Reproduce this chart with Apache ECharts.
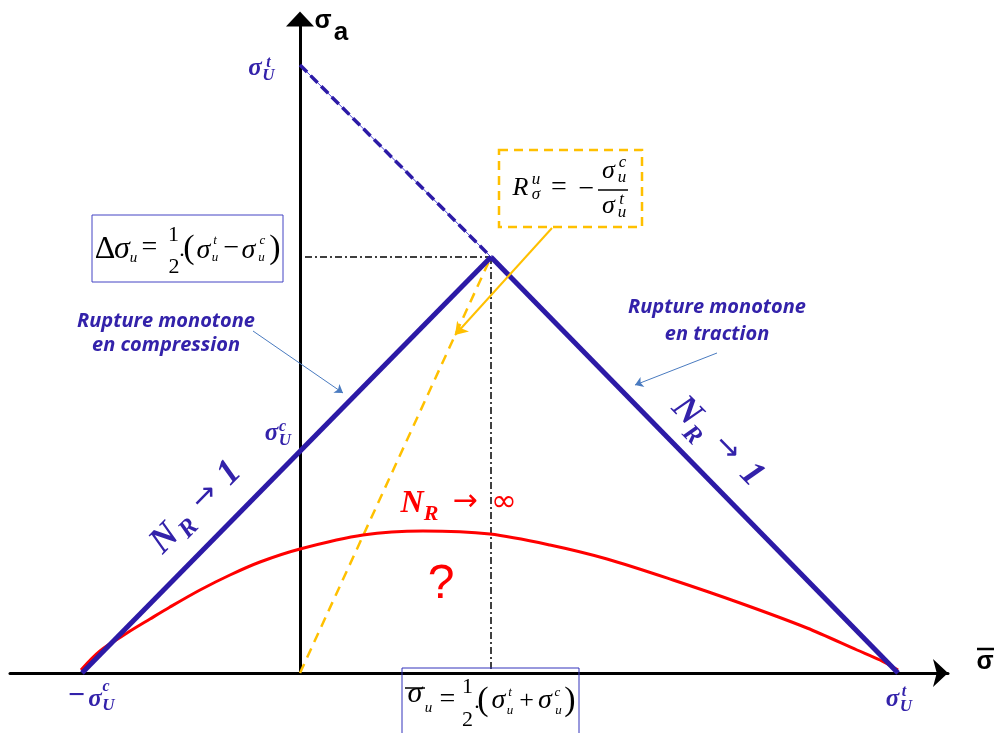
<!DOCTYPE html>
<html>
<head>
<meta charset="utf-8">
<script src="https://cdn.jsdelivr.net/npm/echarts@6/dist/echarts.min.js"></script>
<style>html,body{margin:0;padding:0;background:#fff}#c{width:997px;height:733px}</style>
</head>
<body>
<div id="c"></div>
<script>
// ---- data (mean stress on x, stress amplitude on y; arbitrary units) ----
const compressionLine = [[-218, 0], [191, 416]];
const tensionLine = [[191, 416], [598, 0]];
const tensionExtension = [[0, 608], [191, 416]];
const ratioLine = [[0, 0], [191, 416]];
const apexHorizontal = [[5, 416], [191, 416]];
const apexVertical = [[191, 416], [191, 3]];
const enduranceX = [-219, -200, -173, -150, -130, -100, -70, -40, 0, 63, 123, 190, 250, 307, 373, 440, 507, 557, 580, 598];
const enduranceY = [3, 22, 40, 54, 66, 83, 98, 111, 124, 138, 142, 139, 128, 114, 93, 70, 45, 23, 13, 3];
const ratioArrow = [[252, 445], [155, 338]];
const compressionPointer = [[-47, 342], [43, 280]];
const tractionPointer = [[417, 320], [335, 288]];

const BLUE = '#2C1AA6';
const TXTBLUE = '#3322AA';
const YELLOW = '#FFC000';
const SERIF = '"Liberation Serif","DejaVu Serif",serif';
const SANS = '"Liberation Sans","DejaVu Sans",sans-serif';
const DSANS = '"DejaVu Sans",sans-serif';
const OPEN = '"Open Sans",Lato,sans-serif';
const K = 0.35;

function T(cx, base, text, size, o) {
  o = o || {};
  const al = o.align || 'center';
  return {
    type: 'text', x: cx, y: base - K * size, z: 100,
    style: {
      text: text, fill: o.color || '#000',
      font: (o.style || 'normal') + ' ' + (o.weight || 'normal') + ' ' + size + 'px ' + (o.family || SERIF),
      textAlign: al, textVerticalAlign: 'middle', align: al, verticalAlign: 'middle'
    }
  };
}
function L(x1, y1, x2, y2, color, w) {
  return { type: 'line', z: 100, shape: { x1, y1, x2, y2 }, style: { stroke: color || '#000', lineWidth: w || 1.5 } };
}
const bi = { style: 'italic', weight: 'bold', color: TXTBLUE };
const it = { style: 'italic' };
const rup = { style: 'italic', weight: 'bold', color: TXTBLUE, family: OPEN };
function sigmaLabel(sx, sb, sup, supx, supb, ux, ub) {
  return [
    T(sx, sb, 'σ', 25, bi),
    T(supx, supb, sup, 16, bi),
    T(ux, ub, 'U', 17, bi)
  ];
}

const graphics = [
  // axis titles
  T(323, 30, 'σ', 25, { weight: 'bold', family: SANS }),
  T(341, 42, 'a', 26, { weight: 'bold', family: SANS }),
  T(985, 671, 'σ', 25, { weight: 'bold', family: SANS }),
  L(977, 649, 994, 649, '#000', 2.5),
  // sigma labels
  ...sigmaLabel(255, 77, 't', 268.5, 68, 268.5, 82),
  ...sigmaLabel(271.5, 442, 'c', 282.5, 432, 285, 447),
  T(76.5, 707, '−', 30, bi),
  ...sigmaLabel(95, 708, 'c', 106, 692, 108.5, 712),
  ...sigmaLabel(892.5, 708, 't', 904, 697, 906, 713),
  // delta sigma box
  { type: 'rect', z: 99, shape: { x: 92, y: 215, width: 191, height: 67 }, style: { fill: 'rgba(0,0,0,0)', stroke: '#4444C4', lineWidth: 1 } },
  T(105, 261, 'Δ', 32),
  T(122, 261, 'σ', 32, it),
  T(133.5, 263, 'u', 15, it),
  T(149.5, 257, '=', 28),
  T(173.5, 243, '1', 22),
  T(174, 275, '2', 22),
  T(182, 258, '.', 22),
  T(189, 261, '(', 34),
  T(203.5, 260, 'σ', 28, it),
  T(215, 245, 't', 13, it),
  T(215, 262, 'u', 13, it),
  T(231.5, 258, '−', 28),
  T(248.5, 260, 'σ', 28, it),
  T(262.5, 245, 'c', 13, it),
  T(261.5, 262, 'u', 13, it),
  T(275, 261, ')', 34),
  // mean stress box
  { type: 'rect', z: 99, shape: { x: 402, y: 668, width: 177, height: 80 }, style: { fill: 'rgba(0,0,0,0)', stroke: '#3333BB', lineWidth: 1 } },
  T(415, 705, 'σ', 30, it),
  L(405, 688, 425, 688, '#000', 1.5),
  T(428.5, 713, 'u', 15, it),
  T(447.5, 709, '=', 28),
  T(467.5, 695, '1', 22),
  T(467.5, 728, '2', 22),
  T(477, 710, '.', 22),
  T(483, 713, '(', 34),
  T(498.5, 710, 'σ', 28, it),
  T(510, 697, 't', 13, it),
  T(510, 715, 'u', 13, it),
  T(526.5, 710, '+', 26),
  T(545, 710, 'σ', 28, it),
  T(557.5, 697, 'c', 13, it),
  T(558.5, 715, 'u', 13, it),
  T(570, 713, ')', 34),
  // ratio box
  { type: 'rect', z: 99, shape: { x: 499, y: 150, width: 143, height: 77 }, style: { fill: 'rgba(0,0,0,0)', stroke: YELLOW, lineWidth: 2.5, lineDash: [9, 6] } },
  T(520.5, 197, 'R', 26, it),
  T(536, 185, 'u', 17, it),
  T(536, 200, 'σ', 17, it),
  T(559, 197, '=', 28),
  T(586.5, 199, '−', 28),
  T(608.5, 180, 'σ', 26, it),
  T(622.5, 168, 'c', 17, it),
  T(622, 183, 'u', 17, it),
  L(598, 190, 628, 190, '#000', 1.5),
  T(608.5, 215, 'σ', 26, it),
  T(621.5, 205, 't', 17, it),
  T(622, 218, 'u', 17, it),
  // rupture texts
  T(166, 328, 'Rupture monotone', 20, rup),
  T(166, 352, 'en compression', 20, rup),
  T(717, 314, 'Rupture monotone', 20, rup),
  T(717, 341, 'en traction', 20, rup),
  // N_R -> 1 left (rotated)
  { type: 'group', x: 164.4, y: 557.8, rotation: 0.794, children: [
    T(14, 0, 'N', 36, bi), T(38, 6, 'R', 25, bi), T(72, -3, '→', 30, { color: TXTBLUE, family: DSANS }), T(106, 0, '1', 36, bi)
  ] },
  // N_R -> 1 right (rotated)
  { type: 'group', x: 666.7, y: 409.6, rotation: -0.793, children: [
    T(15, 0, 'N', 36, bi), T(36, 9, 'R', 25, bi), T(70, -5, '→', 30, { color: TXTBLUE, family: DSANS }), T(106, -2, '1', 36, bi)
  ] },
  // N_R -> infinity
  T(412, 515, 'N', 32, { style: 'italic', weight: 'bold', color: '#FF0000' }),
  T(431, 522, 'R', 22, { style: 'italic', weight: 'bold', color: '#FF0000' }),
  T(465, 513, '→', 30, { color: '#FF0000', family: DSANS }),
  T(504, 514, '∞', 31, { color: '#FF0000', family: DSANS }),
  T(441, 602, '?', 48, { color: '#FF0000', family: SANS })
];

const chart = echarts.init(document.getElementById('c'), null, { renderer: 'canvas' });
chart.setOption({
  animation: false,
  backgroundColor: '#fff',
  grid: { left: 10, right: 49, top: 19, bottom: 60 },
  xAxis: {
    type: 'value', min: -290, max: 648,
    axisLine: { onZero: true, symbol: ['none', 'arrow'], symbolSize: [21, 15], lineStyle: { color: '#000', width: 3 } },
    axisTick: { show: false }, axisLabel: { show: false }, splitLine: { show: false }
  },
  yAxis: {
    type: 'value', min: 0, max: 654,
    axisLine: { onZero: true, symbol: ['none', 'triangle'], symbolSize: [28, 15], lineStyle: { color: '#000', width: 3 } },
    axisTick: { show: false }, axisLabel: { show: false }, splitLine: { show: false }
  },
  series: [
    { type: 'line', data: apexHorizontal, symbol: 'none', lineStyle: { color: '#000', width: 1.5, type: [7, 3, 2, 3] }, z: 1 },
    { type: 'line', data: apexVertical, symbol: 'none', lineStyle: { color: '#000', width: 1.5, type: [7, 3, 2, 3] }, z: 1 },
    { type: 'line', data: tensionExtension, symbol: 'none', lineStyle: { color: '#4A46D8', width: 1 }, z: 2 },
    { type: 'line', data: tensionExtension, symbol: 'none', lineStyle: { color: BLUE, width: 3.5, type: [10, 5] }, z: 2 },
    { type: 'line', data: ratioLine, symbol: 'none', lineStyle: { color: YELLOW, width: 2.5, type: [10, 7] }, z: 3 },
    { type: 'line', data: enduranceX.map((x, i) => [x, enduranceY[i]]), symbol: 'none', smooth: 0.3, lineStyle: { color: '#FF0000', width: 3 }, z: 4 },
    { type: 'line', data: compressionLine, symbol: 'none', lineStyle: { color: BLUE, width: 5 }, z: 5 },
    { type: 'line', data: tensionLine, symbol: 'none', lineStyle: { color: BLUE, width: 5 }, z: 5 },
    { type: 'lines', coordinateSystem: 'cartesian2d', symbol: ['none', 'arrow'], symbolSize: 12, z: 6,
      lineStyle: { color: YELLOW, width: 2, opacity: 1, curveness: 0 }, data: [{ coords: ratioArrow }] },
    { type: 'lines', coordinateSystem: 'cartesian2d', symbol: ['none', 'arrow'], symbolSize: 8, z: 6,
      lineStyle: { color: '#4A7BC0', width: 1, opacity: 1, curveness: 0 }, data: [{ coords: compressionPointer }, { coords: tractionPointer }] }
  ],
  graphic: graphics
});
</script>
</body>
</html>
